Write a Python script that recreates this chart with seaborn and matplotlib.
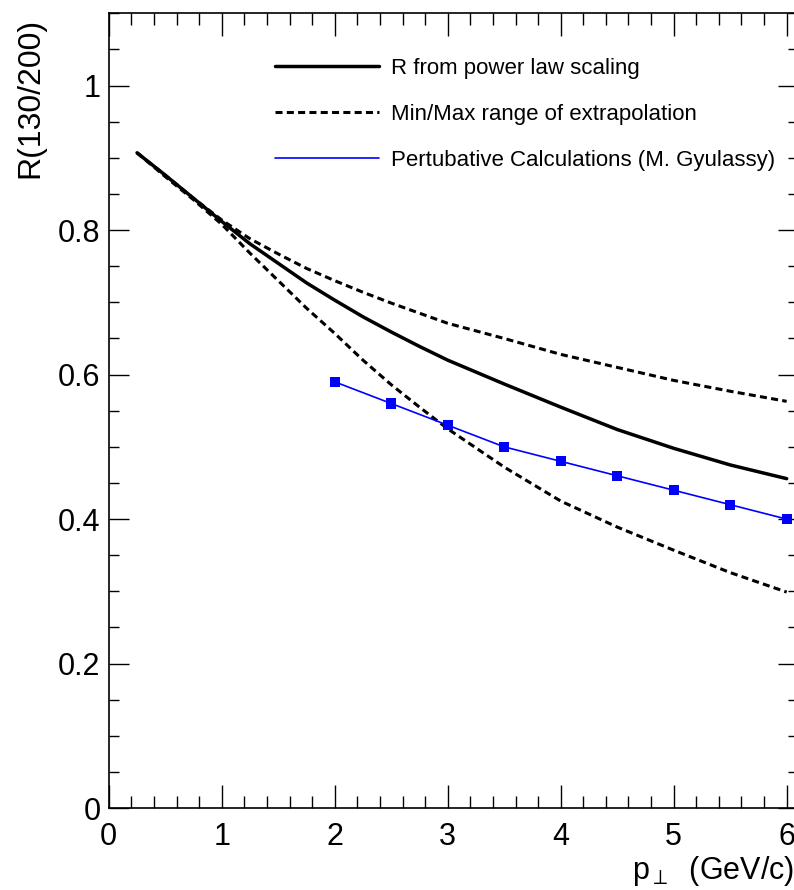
import numpy as np
import pandas as pd
import matplotlib
matplotlib.use('Agg')
import matplotlib.pyplot as plt
import seaborn as sns
from matplotlib.ticker import MultipleLocator

# values
pt_curve = [0.25, 0.5, 0.75, 1.0, 1.25, 1.5, 1.75, 2.0, 2.25, 2.5, 2.75, 3.0,
            3.5, 4.0, 4.5, 5.0, 5.5, 6.0]
r_power = [0.907, 0.876, 0.844, 0.812, 0.781, 0.754, 0.727, 0.703, 0.680, 0.659,
           0.639, 0.620, 0.587, 0.555, 0.524, 0.498, 0.475, 0.456]
r_max = [0.907, 0.876, 0.844, 0.814, 0.788, 0.767, 0.747, 0.730, 0.714, 0.699,
         0.685, 0.671, 0.650, 0.628, 0.610, 0.592, 0.577, 0.563]
r_min = [0.907, 0.874, 0.842, 0.808, 0.768, 0.730, 0.692, 0.657, 0.620, 0.586,
         0.555, 0.525, 0.472, 0.425, 0.389, 0.357, 0.326, 0.299]

pt_pert = [2.0, 2.5, 3.0, 3.5, 4.0, 4.5, 5.0, 5.5, 6.0]
r_pert = [0.59, 0.56, 0.53, 0.50, 0.48, 0.46, 0.44, 0.42, 0.40]

sns.set_style('ticks')
plt.rcParams['font.family'] = ['Liberation Sans', 'DejaVu Sans']
plt.rcParams['mathtext.fontset'] = 'custom'
plt.rcParams['mathtext.rm'] = 'Liberation Sans'
plt.rcParams['mathtext.it'] = 'Liberation Sans'
plt.rcParams['mathtext.fallback'] = 'stixsans'
for k in ['text.color', 'axes.labelcolor', 'xtick.color', 'ytick.color', 'axes.edgecolor']:
    plt.rcParams[k] = 'black'

df = pd.DataFrame({'pt': pt_curve, 'power': r_power, 'max': r_max, 'min': r_min})
df_p = pd.DataFrame({'pt': pt_pert, 'r': r_pert})

fig = plt.figure(figsize=(7.94, 8.90), dpi=100)
ax = fig.add_axes([0.137, 0.092, 0.868, 0.893])

dash = (0, (2.3, 1.4))
sns.lineplot(data=df, x='pt', y='power', ax=ax, color='black', lw=2.5,
             label='R from power law scaling')
sns.lineplot(data=df, x='pt', y='max', ax=ax, color='black', lw=2.2,
             linestyle=dash, label='Min/Max range of extrapolation')
sns.lineplot(data=df, x='pt', y='min', ax=ax, color='black', lw=2.2,
             linestyle=dash)
sns.lineplot(data=df_p, x='pt', y='r', ax=ax, color='#0000ff', lw=1.2,
             label='Pertubative Calculations (M. Gyulassy)')
sns.scatterplot(data=df_p, x='pt', y='r', ax=ax, color='#0000ff', marker='s',
                s=55, edgecolor='none', zorder=5)

ax.set_xlim(0, 6.1)
ax.set_ylim(0, 1.1)

ax.xaxis.set_major_locator(MultipleLocator(1))
ax.xaxis.set_minor_locator(MultipleLocator(0.2))
ax.yaxis.set_major_locator(MultipleLocator(0.2))
ax.yaxis.set_minor_locator(MultipleLocator(0.05))
ax.yaxis.set_major_formatter(plt.FuncFormatter(lambda v, p: '%g' % round(v, 2)))

ax.tick_params(which='both', direction='in', top=True, right=True, width=1.0,
               labelsize=22)
ax.tick_params(axis='x', which='major', length=16.5, pad=10)
ax.tick_params(axis='x', which='minor', length=8.5)
ax.tick_params(axis='y', which='major', length=14.5, pad=6)
ax.tick_params(axis='y', which='minor', length=7.2)
for s in ax.spines.values():
    s.set_linewidth(1.2)

ax.set_ylabel('R(130/200)', fontsize=23, loc='top')
ax.yaxis.set_label_coords(-0.092, 0.994)
ax.set_xlabel(r'$\mathrm{p}_{\perp}$  (GeV/c)', fontsize=22, loc='right')
ax.xaxis.set_label_coords(0.994, -0.058)

leg = ax.legend(loc='upper left', bbox_to_anchor=(0.241, 0.944), frameon=False,
                fontsize=16, handlelength=4.7, handletextpad=0.54,
                labelspacing=1.13, borderpad=0, borderaxespad=0)

fig.savefig('out.png', dpi=100)
